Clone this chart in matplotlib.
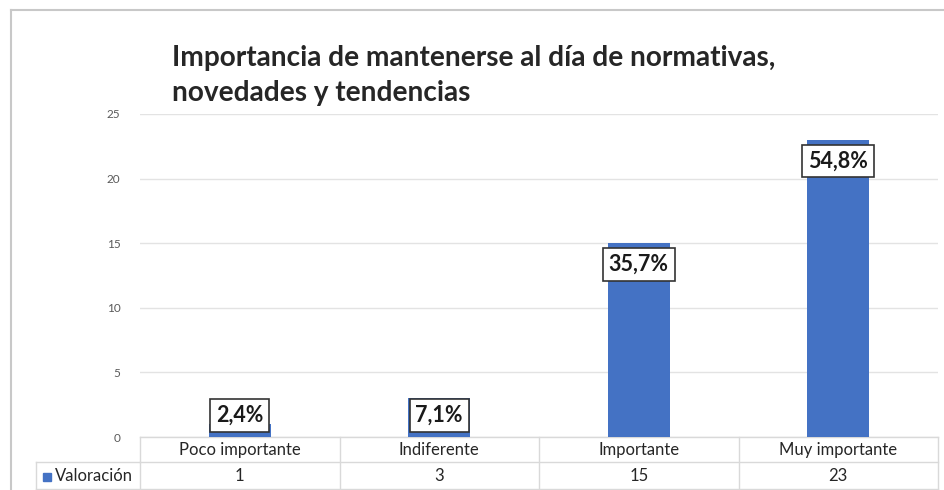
import matplotlib
matplotlib.use("Agg")
import matplotlib.pyplot as plt
from matplotlib.patches import Rectangle
import matplotlib.transforms as mtransforms

categories = ["Poco importante", "Indiferente", "Importante", "Muy importante"]
values = [1, 3, 15, 23]
pct_labels = ["2,4%", "7,1%", "35,7%", "54,8%"]
series_name = "Valoración"
title = "Importancia de mantenerse al día de normativas,\nnovedades y tendencias"
yticks = [0, 5, 10, 15, 20, 25]

plt.rcParams['font.family'] = ['Lato', 'DejaVu Sans']

W, H = 944, 490
fig = plt.figure(figsize=(W / 100, H / 100), dpi=100)
fig.patch.set_facecolor("white")

def fx(px):
    return px / W

def fy(py):
    return 1 - py / H

ax_l, ax_r, ax_t, ax_b = 140, 938, 114, 437
ax = fig.add_axes([fx(ax_l), fy(ax_b), fx(ax_r - ax_l), (ax_b - ax_t) / H])

bar_color = "#4472C4"
xs = list(range(len(categories)))
ax.bar(xs, values, width=0.31, color=bar_color, zorder=3)
ax.set_xlim(-0.5, len(categories) - 0.5)
ax.set_ylim(0, 25)
ax.set_yticks(yticks)
ax.set_yticklabels([str(t) for t in yticks], fontsize=8.5, color="#595959")
ax.tick_params(axis="y", length=0, pad=14)
ax.set_xticks([])
for s in ["top", "right", "left"]:
    ax.spines[s].set_visible(False)
ax.spines["bottom"].set_color("#d9d9d9")
ax.spines["bottom"].set_linewidth(1)
ax.grid(axis="y", color="#e3e3e3", linewidth=1, zorder=0)

for x, v, lab in zip(xs, values, pct_labels):
    y = max(v - 1.65, 1.65)
    ax.text(x, y, lab, ha="center", va="center", fontsize=15.5, fontweight="bold",
            color="#1a1a1a", zorder=5,
            bbox=dict(boxstyle="square,pad=0.27", facecolor="white",
                      edgecolor="#333333", linewidth=1.2))

# Data table below the axis
trans = mtransforms.blended_transform_factory(ax.transData, fig.transFigure)
grid_c = "#d9d9d9"
y_top, y_mid, y_bot = fy(437), fy(462), fy(489)
for xb in [-0.5, 0.5, 1.5, 2.5, 3.5]:
    ax.plot([xb, xb], [y_top, y_bot], transform=trans, color=grid_c, lw=1, clip_on=False)
ax.plot([-0.5, 3.5], [y_mid, y_mid], transform=trans, color=grid_c, lw=1, clip_on=False)
fig.add_artist(plt.Line2D([fx(36), fx(140)], [y_mid, y_mid], color=grid_c, lw=1))
fig.add_artist(plt.Line2D([fx(36), fx(36)], [y_mid, y_bot], color=grid_c, lw=1))
fig.add_artist(plt.Line2D([fx(36), fx(938)], [y_bot, y_bot], color=grid_c, lw=1))

for x, cat, v in zip(xs, categories, values):
    ax.text(x, (y_top + y_mid) / 2, cat, transform=trans, ha="center", va="center",
            fontsize=12, color="#262626")
    ax.text(x, (y_mid + y_bot) / 2, str(v), transform=trans, ha="center", va="center",
            fontsize=12, color="#262626")

fig.add_artist(Rectangle((fx(43), fy(481)), fx(8), 8 / H, color=bar_color,
                         transform=fig.transFigure))
fig.text(fx(55), (y_mid + y_bot) / 2, series_name, ha="left", va="center",
         fontsize=12, color="#262626")

# Title
fig.text(fx(172), fy(45), title, ha="left", va="top", fontsize=20.2,
         fontweight="bold", color="#262626", linespacing=1.45)

# Outer chart border (left and top)
fig.add_artist(plt.Line2D([fx(11), fx(11)], [fy(10), 0], color="#c8c8c8", lw=1.5))
fig.add_artist(plt.Line2D([fx(11), 1], [fy(10), fy(10)], color="#c8c8c8", lw=1.5))

fig.savefig("out.png", dpi=100, facecolor="white")
